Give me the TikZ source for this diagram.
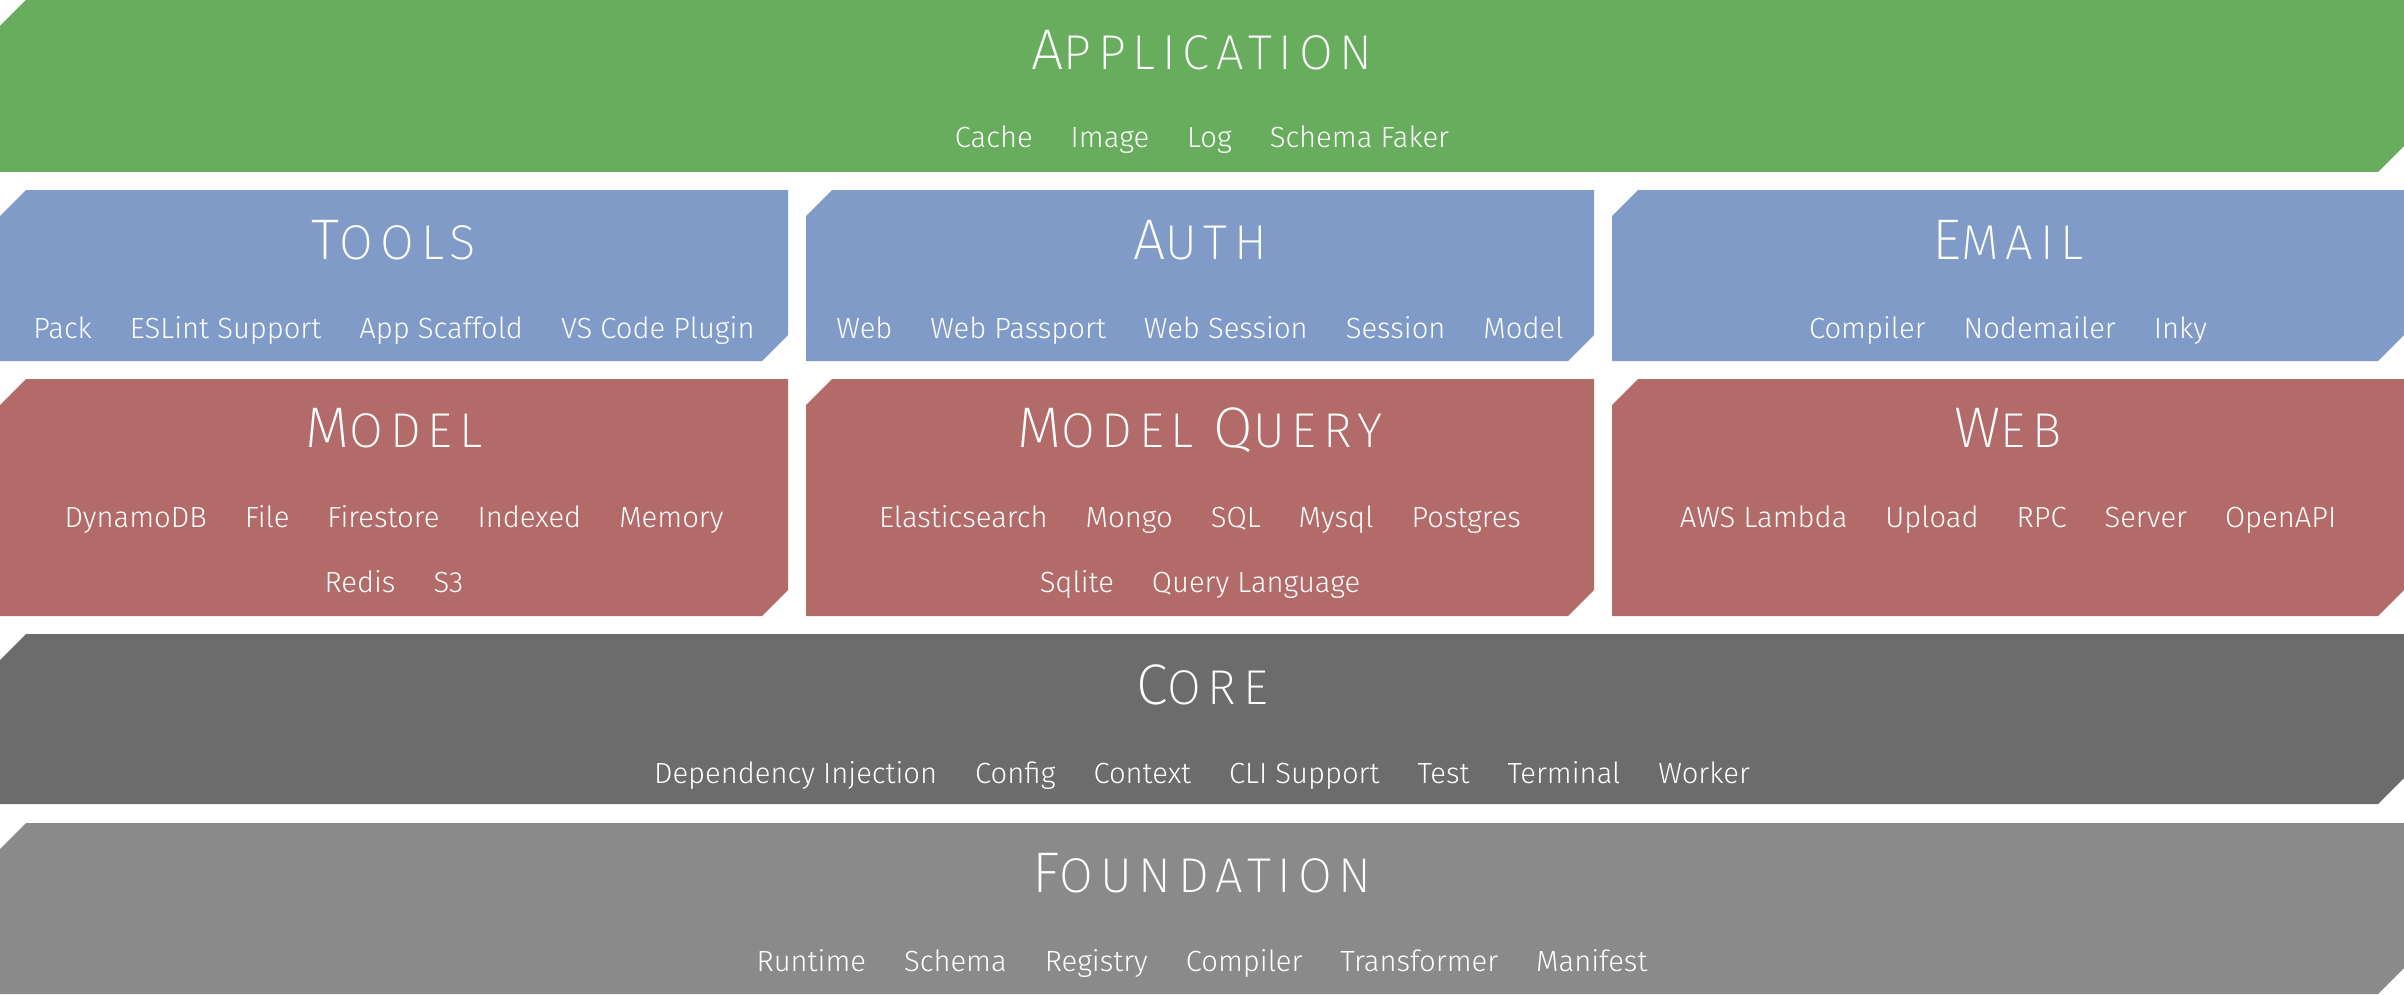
\documentclass[tikz,border=0pt]{standalone}
\usepackage{fontspec}
\setmainfont{Fira Sans}[UprightFont=* Light]
\newfontfamily\titlefont{Fira Sans}[UprightFont=* ExtraLight, LetterSpace=14]
\definecolor{appgreen}{HTML}{68AD5E}
\definecolor{midblue}{HTML}{819BC8}
\definecolor{modelred}{HTML}{B26B68}
\definecolor{coregray}{HTML}{6C6C6C}
\definecolor{basegray}{HTML}{8A8A8A}
\usetikzlibrary{positioning}

% one layer: name, x1, y1, x2, y2, colour (pixel units, y down)
\newcommand\layerbox[6]{%
  \fill[#6] (#2,#3+26) -- (#2+26,#3) -- (#4,#3) -- (#4,#5-26)
    -- (#4-26,#5) -- (#2,#5) -- cycle;
  \coordinate (#1) at ({(#2+#4)/2},#3);
}
\newcommand\layertitle[2]{%
  {\fontsize{16.3pt}{18pt}\selectfont #1}{\fontsize{13.9pt}{16pt}\selectfont #2}}
\newcommand\itemgap{\hspace{0.38cm}}

\begin{document}
\begin{tikzpicture}[
  x=0.01cm, y=-0.01cm,
  title/.style={anchor=base, text=white, inner sep=0pt, font=\titlefont},
  items/.style={anchor=base, text=white, inner sep=0pt,
    font=\fontsize{8.3pt}{10pt}\selectfont}
]
\useasboundingbox (0,0) rectangle (2404,994);

\layerbox{app}{0}{0}{2404}{172}{appgreen}
\layerbox{tools}{0}{190}{788}{361}{midblue}
\layerbox{auth}{806}{190}{1594}{361}{midblue}
\layerbox{email}{1612}{190}{2404}{361}{midblue}
\layerbox{model}{0}{379}{788}{616}{modelred}
\layerbox{query}{806}{379}{1594}{616}{modelred}
\layerbox{web}{1612}{379}{2404}{616}{modelred}
\layerbox{core}{0}{634}{2404}{804}{coregray}
\layerbox{found}{0}{823}{2404}{994}{basegray}

% application
\node[title] (appTitle) at (1202,70) {\layertitle{A}{PPLICATION}};
\node[items] (appItems) at (1202,148)
  {Cache\itemgap Image\itemgap Log\itemgap Schema Faker};

% tools, auth, email
\node[title] (toolsTitle) at (394,259) {\layertitle{T}{OOLS}};
\node[items] (toolsItems) at (394,338)
  {Pack\itemgap ESLint Support\itemgap App Scaffold\itemgap VS Code Plugin};
\node[title] (authTitle) at (1200,259) {\layertitle{A}{UTH}};
\node[items] (authItems) at (1200,338)
  {Web\itemgap Web Passport\itemgap Web Session\itemgap Session\itemgap Model};
\node[title] (emailTitle) at (2008,259) {\layertitle{E}{MAIL}};
\node[items] (emailItems) at (2008,338)
  {Compiler\itemgap Nodemailer\itemgap Inky};

% model, model query, web
\node[title] (modelTitle) at (394,447) {\layertitle{M}{ODEL}};
\node[items] (modelItems) at (394,527)
  {DynamoDB\itemgap File\itemgap Firestore\itemgap Indexed\itemgap Memory};
\node[items] (modelMore) at (394,592) {Redis\itemgap S3};
\node[title] (queryTitle) at (1200,447)
  {\layertitle{M}{ODEL}\hspace{0.2cm}\layertitle{Q}{UERY}};
\node[items] (queryItems) at (1200,527)
  {Elasticsearch\itemgap Mongo\itemgap SQL\itemgap Mysql\itemgap Postgres};
\node[items] (queryMore) at (1200,592) {Sqlite\itemgap Query Language};
\node[title] (webTitle) at (2008,447) {\layertitle{W}{EB}};
\node[items] (webItems) at (2008,527)
  {AWS Lambda\itemgap Upload\itemgap RPC\itemgap Server\itemgap OpenAPI};

% core
\node[title] (coreTitle) at (1202,704) {\layertitle{C}{ORE}};
\node[items] (coreItems) at (1202,783)
  {Dependency Injection\itemgap Config\itemgap Context\itemgap CLI Support\itemgap
   Test\itemgap Terminal\itemgap Worker};

% foundation
\node[title] (foundTitle) at (1202,892) {\layertitle{F}{OUNDATION}};
\node[items] (foundItems) at (1202,971)
  {Runtime\itemgap Schema\itemgap Registry\itemgap Compiler\itemgap
   Transformer\itemgap Manifest};
\end{tikzpicture}
\end{document}
